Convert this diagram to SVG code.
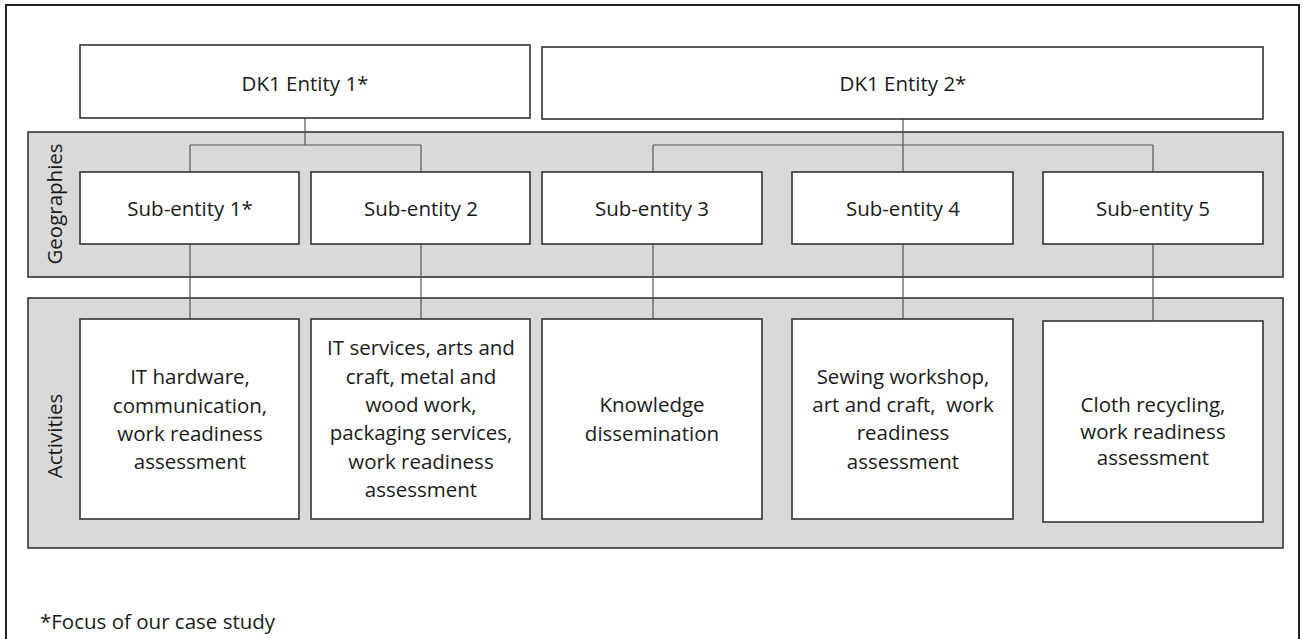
<svg xmlns="http://www.w3.org/2000/svg" width="1302" height="639" viewBox="0 0 1302 639">
  <style>
    .box{fill:#ffffff;stroke:#333333;stroke-width:1.6}
    .band{fill:#d9d9d9;stroke:#333333;stroke-width:1.6}
    .frame{fill:none;stroke:#222222;stroke-width:2}
    .conn{fill:none;stroke:#555555;stroke-width:1.2}
    text{font-family:"Open Sans","Noto Sans","Liberation Sans",sans-serif;font-size:20.5px;fill:#1a1a1a;text-anchor:middle}
    .left{text-anchor:start}
  </style>
  <rect x="0" y="0" width="1302" height="639" fill="#ffffff"/>
  <rect class="frame" x="6" y="5" width="1293" height="660"/>
  <g id="band-geographies">
    <rect class="band" x="28" y="132" width="1255" height="145"/>
    <text transform="translate(62,204) rotate(-90)">Geographies</text>
  </g>
  <g id="band-activities">
    <rect class="band" x="28" y="298" width="1255" height="250"/>
    <text transform="translate(62,436) rotate(-90)">Activities</text>
  </g>
  <g id="connectors">
    <path class="conn" d="M305,118 V145 M190,145 H421 M190,145 V172 M421,145 V172"/>
    <path class="conn" d="M903,119 V172 M653,145 H1153 M653,145 V172 M1153,145 V172"/>
    <path class="conn" d="M190,244 V319 M421,244 V319 M653,244 V319 M903,244 V319 M1153,244 V321"/>
  </g>
  <g id="entity1">
    <rect class="box" x="80" y="45" width="450" height="73"/>
    <text x="305" y="91">DK1 Entity 1*</text>
  </g>
  <g id="entity2">
    <rect class="box" x="542" y="47" width="721" height="72"/>
    <text x="903" y="91">DK1 Entity 2*</text>
  </g>
  <g id="sub1">
    <rect class="box" x="80" y="172" width="219" height="72"/>
    <text x="190" y="216">Sub-entity 1*</text>
  </g>
  <g id="sub2">
    <rect class="box" x="311" y="172" width="219" height="72"/>
    <text x="421" y="216">Sub-entity 2</text>
  </g>
  <g id="sub3">
    <rect class="box" x="542" y="172" width="220" height="72"/>
    <text x="652" y="216">Sub-entity 3</text>
  </g>
  <g id="sub4">
    <rect class="box" x="792" y="172" width="221" height="72"/>
    <text x="903" y="216">Sub-entity 4</text>
  </g>
  <g id="sub5">
    <rect class="box" x="1043" y="172" width="220" height="72"/>
    <text x="1153" y="216">Sub-entity 5</text>
  </g>
  <g id="act1">
    <rect class="box" x="80" y="319" width="219" height="200"/>
    <text x="190" y="384">IT hardware,</text>
    <text x="190" y="413">communication,</text>
    <text x="190" y="441">work readiness</text>
    <text x="190" y="469">assessment</text>
  </g>
  <g id="act2">
    <rect class="box" x="311" y="319" width="219" height="200"/>
    <text x="421" y="355">IT services, arts and</text>
    <text x="421" y="384">craft, metal and</text>
    <text x="421" y="412">wood work,</text>
    <text x="421" y="440">packaging services,</text>
    <text x="421" y="469">work readiness</text>
    <text x="421" y="497">assessment</text>
  </g>
  <g id="act3">
    <rect class="box" x="542" y="319" width="220" height="200"/>
    <text x="652" y="412">Knowledge</text>
    <text x="652" y="441">dissemination</text>
  </g>
  <g id="act4">
    <rect class="box" x="792" y="319" width="221" height="200"/>
    <text x="903" y="384">Sewing workshop,</text>
    <text x="903" y="412" xml:space="preserve">art and craft,  work</text>
    <text x="903" y="440">readiness</text>
    <text x="903" y="469">assessment</text>
  </g>
  <g id="act5">
    <rect class="box" x="1043" y="321" width="220" height="201"/>
    <text x="1153" y="412">Cloth recycling,</text>
    <text x="1153" y="439">work readiness</text>
    <text x="1153" y="465">assessment</text>
  </g>
  <g id="footnote">
    <text class="left" x="40" y="629">*Focus of our case study</text>
  </g>
</svg>
